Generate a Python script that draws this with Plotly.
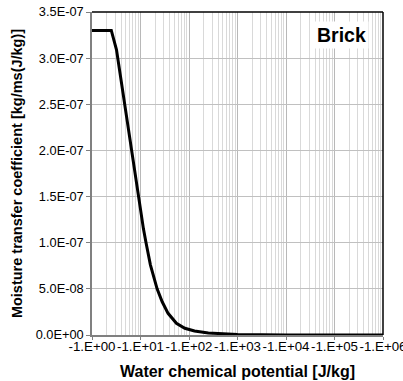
import plotly.graph_objects as go

# Data (x = |water chemical potential| in J/kg)
potential = [1, 2.5, 3.2, 4.9, 6.4, 9.0, 11.5, 13, 16, 22, 28, 37, 55, 82, 130, 250, 500, 1000, 1e4, 1e5, 1e6]
coefficient = [3.3e-7, 3.3e-7, 3.09e-7, 2.44e-7, 2.0e-7, 1.5e-7, 1.15e-7, 1.0e-7, 7.6e-8, 5.0e-8,
               3.6e-8, 2.35e-8, 1.27e-8, 7.3e-9, 4.3e-9, 2.2e-9, 1.0e-9, 5e-10, 0, 0, 0]

x_tickvals = [1, 10, 100, 1e3, 1e4, 1e5, 1e6]
x_ticktext = ["-1.E+00", "-1.E+01", "-1.E+02", "-1.E+03", "-1.E+04", "-1.E+05", "-1.E+06"]
y_tickvals = [0, 5e-8, 1e-7, 1.5e-7, 2e-7, 2.5e-7, 3e-7, 3.5e-7]
y_ticktext = ["0.0E+00", "5.0E-08", "1.0E-07", "1.5E-07", "2.0E-07", "2.5E-07", "3.0E-07", "3.5E-07"]

FONT = "Liberation Sans, Arial, sans-serif"

fig = go.Figure()
fig.add_trace(go.Scatter(x=potential, y=coefficient, mode="lines",
                         line=dict(color="black", width=3), showlegend=False))

fig.update_layout(
    width=403, height=381,
    margin=dict(l=92, r=20, t=12, b=46),
    paper_bgcolor="white", plot_bgcolor="white",
    font=dict(family=FONT, size=12, color="black"),
    xaxis=dict(
        type="log", range=[0, 6],
        tickvals=x_tickvals, ticktext=x_ticktext,
        showgrid=True, gridcolor="#b8b8b8", gridwidth=1,
        minor=dict(dtick="D1", showgrid=True, gridcolor="#d9d9d9", gridwidth=1, ticks=""),
        showline=True, linecolor="#808080", linewidth=1.5,
        ticks="outside", ticklen=3, tickcolor="#808080",
        tickfont=dict(size=13.3),
        tickangle=0,
        ticklabeloverflow="allow",
        ticklabelstandoff=-5,
        automargin=False,
        title=dict(text="<b>Water chemical potential [J/kg]</b>", font=dict(size=16), standoff=13),
        zeroline=False,
    ),
    yaxis=dict(
        range=[0, 3.5e-7],
        tickvals=y_tickvals, ticktext=y_ticktext,
        showgrid=True, gridcolor="#c0c0c0", gridwidth=1,
        showline=True, linecolor="#808080", linewidth=1.5,
        ticks="outside", ticklen=4, tickcolor="#808080",
        tickfont=dict(size=12.8),
        automargin=False,
        title=dict(text="<b>Moisture transfer coefficient [kg/ms(J/kg)]</b>", font=dict(size=14.5), standoff=10),
        zeroline=False,
    ),
    shapes=[
        dict(type="line", xref="x domain", yref="y domain", x0=0, x1=1, y0=1, y1=1,
             line=dict(color="black", width=1.5)),
        dict(type="line", xref="x domain", yref="y domain", x0=1, x1=1, y0=0, y1=1,
             line=dict(color="black", width=1.5)),
    ],
    annotations=[
        dict(text="<b>Brick</b>", xref="x domain", yref="y domain", x=0.857, y=0.93,
             showarrow=False, font=dict(size=19.5, color="black"),
             bgcolor="white", borderpad=2, xanchor="center", yanchor="middle"),
    ],
)

fig.write_html("out.html")
